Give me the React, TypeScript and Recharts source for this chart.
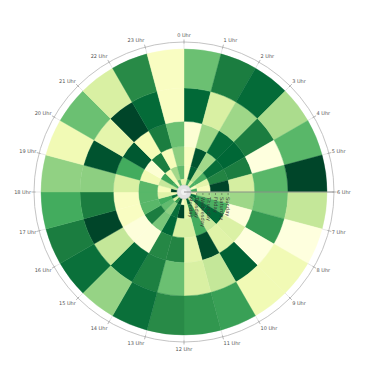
import { PieChart, Pie, Cell } from "recharts";

// rings from inside (Monday) to outside (Sunday), 24 hourly cells each
const hourLabels = [
  "0 Uhr", "1 Uhr", "2 Uhr", "3 Uhr", "4 Uhr", "5 Uhr", "6 Uhr", "7 Uhr",
  "8 Uhr", "9 Uhr", "10 Uhr", "11 Uhr", "12 Uhr", "13 Uhr", "14 Uhr", "15 Uhr",
  "16 Uhr", "17 Uhr", "18 Uhr", "19 Uhr", "20 Uhr", "21 Uhr", "22 Uhr", "23 Uhr",
];
const dayLabels = ["Monday", "Tuesday", "Wednesday", "Thursday", "Friday", "Saturday", "Sunday"];

const monday = [40, 60, 20, 70, 30, 50, 10, 80, 40, 60, 20, 90, 30, 50, 70, 20, 60, 40, 80, 30, 50, 20, 70, 40];
const tuesday = [20, 65, 25, 60, 10, 62, 15, 85, 70, 30, 90, 20, 10, 95, 70, 25, 85, 15, 100, 30, 60, 10, 55, 20];
const wednesday = [10, 90, 35, 60, 20, 12, 40, 65, 85, 25, 70, 20, 100, 85, 45, 55, 62, 22, 12, 30, 65, 15, 40, 55];
const thursday = [10, 95, 40, 85, 75, 100, 42, 60, 87, 30, 62, 25, 25, 88, 50, 78, 57, 57, 57, 15, 5, 78, 12, 45];
const friday = [5, 41, 86, 88, 78, 26, 41, 3, 24, 22, 98, 20, 75, 74, 3, 3, 10, 10, 25, 62, 93, 13, 78, 53];
const saturday = [87, 25, 41, 78, 2, 57, 53, 68, 2, 90, 31, 25, 53, 77, 86, 31, 100, 78, 45, 95, 20, 100, 86, 10];
const sunday = [53, 78, 86, 38, 57, 100, 31, 2, 15, 15, 66, 69, 73, 84, 43, 84, 78, 62, 44, 15, 53, 25, 73, 10];

const dayValues = [monday, tuesday, wednesday, thursday, friday, saturday, sunday];

const W = 368;
const H = 377;
const CX = 184;
const CY = 192;
const RING_EDGES = [0, 5.7, 13.3, 26.7, 45.7, 70.7, 104, 143];
const AXIS_R = 150;

const YLGN = ["#ffffe5", "#f7fcb9", "#d9f0a3", "#addd8e", "#78c679", "#41ab5d", "#238443", "#006837", "#004529"];

function hexToRgb(h: string) {
  return [1, 3, 5].map((i) => parseInt(h.slice(i, i + 2), 16));
}

function ylgn(v: number) {
  const t = Math.max(0, Math.min(1, v / 100)) * (YLGN.length - 1);
  const i = Math.min(Math.floor(t), YLGN.length - 2);
  const f = t - i;
  const a = hexToRgb(YLGN[i]);
  const b = hexToRgb(YLGN[i + 1]);
  const c = a.map((x, j) => Math.round(x + (b[j] - x) * f));
  return `rgb(${c[0]},${c[1]},${c[2]})`;
}

const font = "DejaVu Sans, sans-serif";

// axis circle, hour ticks, radial axis and day labels drawn over the pies
function PolarFrame() {
  const rad = (deg: number) => (deg * Math.PI) / 180;
  return (
    <svg
      width={W}
      height={H}
      style={{ position: "absolute", left: 0, top: 0, pointerEvents: "none" }}
    >
      <circle cx={CX} cy={CY} r={AXIS_R} fill="none" stroke="#b5b5b5" strokeWidth={0.8} />
      {hourLabels.map((lab, h) => {
        const a = rad(h * 15);
        const s = Math.sin(a);
        const c = Math.cos(a);
        const anchor = s > 0.05 ? "start" : s < -0.05 ? "end" : "middle";
        return (
          <g key={lab}>
            <line
              x1={CX + RING_EDGES[7] * s}
              y1={CY - RING_EDGES[7] * c}
              x2={CX + AXIS_R * s}
              y2={CY - AXIS_R * c}
              stroke="#dddddd"
              strokeWidth={0.7}
            />
            <line
              x1={CX + (AXIS_R - 1.5) * s}
              y1={CY - (AXIS_R - 1.5) * c}
              x2={CX + (AXIS_R + 2.5) * s}
              y2={CY - (AXIS_R + 2.5) * c}
              stroke="#888"
              strokeWidth={0.6}
            />
            <text
              x={CX + (AXIS_R + 3) * s}
              y={CY - (AXIS_R + 3) * c}
              dy={1.8 - 4 * c}
              textAnchor={anchor}
              fontSize={5}
              fontFamily={font}
              fill="#555"
            >
              {lab}
            </text>
          </g>
        );
      })}
      <line x1={CX} y1={CY} x2={CX + AXIS_R} y2={CY} stroke="#8a8a8a" strokeWidth={0.9} />
      {dayLabels.map((d, k) => {
        const x = CX + 6.3 * (k + 1);
        return (
          <g key={d}>
            <line x1={x} y1={CY + 1} x2={x} y2={CY + 3} stroke="#444" strokeWidth={0.5} />
            <text
              x={x - 1.8}
              y={CY + 5}
              transform={`rotate(90 ${x - 1.8} ${CY + 5})`}
              fontSize={5.2}
              fontFamily={font}
              fill="#333"
              fillOpacity={0.9}
            >
              {d}
            </text>
          </g>
        );
      })}
      <circle cx={CX} cy={CY} r={7} fill="#e3e3e3" stroke="#cfcfcf" strokeWidth={0.6} />
      <circle cx={CX} cy={CY} r={3} fill="#f2f2f2" />
      <line x1={CX} y1={CY} x2={CX + 7} y2={CY} stroke="#8a8a8a" strokeWidth={0.9} />
    </svg>
  );
}

export default function App() {
  return (
    <div style={{ position: "absolute", left: 0, top: 0, width: W, height: H, background: "#fff" }}>
      <PieChart width={W} height={H} margin={{ top: 0, right: 0, bottom: 0, left: 0 }}>
        {dayValues.map((vals, k) => (
          <Pie
            key={dayLabels[k]}
            data={vals.map((v, h) => ({ hour: hourLabels[h], value: v, slot: 1 }))}
            dataKey="slot"
            nameKey="hour"
            cx={CX}
            cy={CY}
            innerRadius={RING_EDGES[k]}
            outerRadius={RING_EDGES[k + 1]}
            startAngle={90}
            endAngle={-270}
            stroke="none"
            isAnimationActive={false}
          >
            {vals.map((v, h) => (
              <Cell key={h} fill={ylgn(v)} stroke={ylgn(v)} strokeWidth={0.4} />
            ))}
          </Pie>
        ))}
      </PieChart>
      <PolarFrame />
    </div>
  );
}
